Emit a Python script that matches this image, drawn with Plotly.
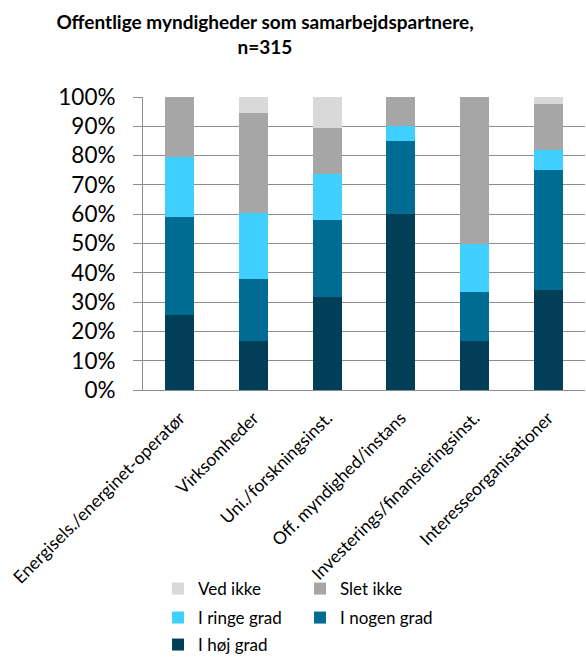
import plotly.graph_objects as go

categories = ["Energisels./energinet-operatør", "Virksomheder", "Uni./forskningsinst.",
              "Off. myndighed/instans", "Investerings/finansieringsinst.", "Interesseorganisationer"]

hoej_grad = [25.6, 16.7, 31.6, 60.0, 16.7, 34.1]
nogen_grad = [33.3, 21.1, 26.3, 25.0, 16.6, 40.9]
ringe_grad = [20.6, 22.5, 15.8, 5.0, 16.7, 6.8]
slet_ikke = [20.5, 34.1, 15.8, 10.0, 50.0, 15.9]
ved_ikke = [0.0, 5.6, 10.5, 0.0, 0.0, 2.3]

series = [
    ("I høj grad", hoej_grad, "#003F57", "legend3"),
    ("I nogen grad", nogen_grad, "#006B93", "legend2"),
    ("I ringe grad", ringe_grad, "#3FD0FF", "legend2"),
    ("Slet ikke", slet_ikke, "#A6A6A6", "legend"),
    ("Ved ikke", ved_ikke, "#D9D9D9", "legend"),
]

fig = go.Figure()
for name, vals, color, lg in series:
    fig.add_trace(go.Bar(
        x=categories, y=[v / 100 for v in vals], name=name,
        marker=dict(color=color, line=dict(width=0)),
        legend=lg,
    ))

FONT = "Lato, Carlito, Calibri, sans-serif"
W, H = 586, 657
L, R, T, B = 143, 1, 97, 267
ph = H - T - B

def py(pix):
    return (H - B - pix) / ph

legend_common = dict(orientation="h", traceorder="reversed", xanchor="left", yanchor="middle",
                     font=dict(family=FONT, size=17, color="#000000"),
                     entrywidth=97, entrywidthmode="pixels", bgcolor="rgba(0,0,0,0)",
                     itemclick=False)

lx = 0.034

fig.update_layout(
    width=W, height=H,
    margin=dict(l=L, r=R, t=T, b=B, autoexpand=False),
    barmode="stack", bargap=0.61,
    paper_bgcolor="white", plot_bgcolor="white",
    font=dict(family=FONT, color="#000000"),
    title=dict(text="<b>Offentlige myndigheder som samarbejdspartnere,<br>n=315</b>",
               x=265 / W, xref="container", xanchor="center",
               y=1 - 29 / H, yref="container", yanchor="middle",
               font=dict(family=FONT, size=19, color="#000000")),
    legend=dict(x=lx, y=py(589), **legend_common),
    legend2=dict(x=lx, y=py(618), **legend_common),
    legend3=dict(x=lx, y=py(645), **legend_common),
    xaxis=dict(tickangle=-45, tickfont=dict(family=FONT, size=17.5, color="#000000"),
               showline=True, linecolor="#8C8C8C", linewidth=1, ticks="", showgrid=False,
               ticklabelstandoff=10, automargin=False),
    yaxis=dict(range=[0, 1], tickformat=".0%", dtick=0.1,
               tickfont=dict(family=FONT, size=22.5, color="#000000"),
               showgrid=True, gridcolor="#8C8C8C", gridwidth=1,
               showline=True, linecolor="#8C8C8C", linewidth=1,
               ticks="outside", ticklen=9, tickcolor="#8C8C8C", ticklabelstandoff=13,
               zeroline=False, automargin=False),
)

fig.write_html("out.html", config={"displayModeBar": False},
               post_script="document.body.style.margin='0';document.body.style.padding='0';")
